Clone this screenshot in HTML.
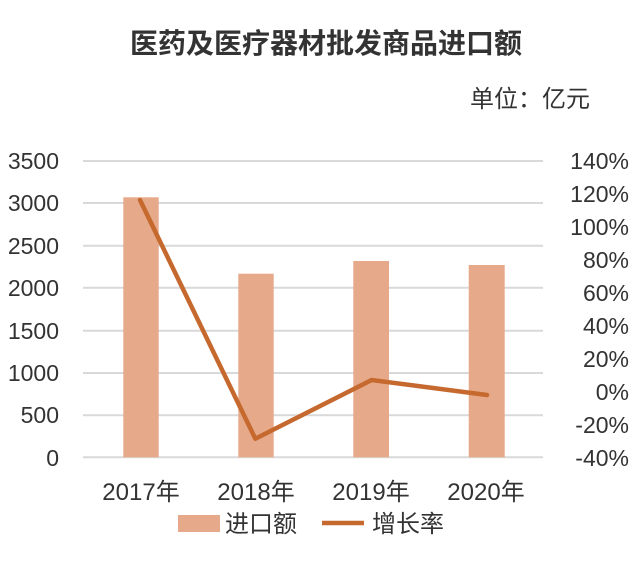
<!DOCTYPE html>
<html><head><meta charset="utf-8"><style>
body{margin:0;background:#fff;}
svg text{font-family:"Liberation Sans","Noto Sans CJK SC",sans-serif;fill:#333;}
</style></head><body>
<svg width="640" height="558" viewBox="0 0 640 558" xmlns="http://www.w3.org/2000/svg">
<text x="326" y="53" text-anchor="middle" font-size="28" font-weight="bold" fill="#3a3a3a">医药及医疗器材批发商品进口额</text>
<text x="590" y="107" text-anchor="end" font-size="24" fill="#111">单位：亿元</text>
<g stroke="#d9d9d9" stroke-width="2">
<line x1="83" x2="543" y1="161" y2="161"/><line x1="83" x2="543" y1="203" y2="203"/>
<line x1="83" x2="543" y1="245.7" y2="245.7"/><line x1="83" x2="543" y1="287.7" y2="287.7"/>
<line x1="83" x2="543" y1="330.7" y2="330.7"/><line x1="83" x2="543" y1="373" y2="373"/>
<line x1="83" x2="543" y1="415.3" y2="415.3"/><line x1="83" x2="543" y1="457.3" y2="457.3"/>
</g>
<g fill="#e6a98a">
<rect x="123.3" y="197.3" width="35.4" height="260"/>
<rect x="238.3" y="273.7" width="35.4" height="183.6"/>
<rect x="353.3" y="261" width="35.7" height="196.3"/>
<rect x="468.7" y="265" width="36" height="192.3"/>
</g>
<polyline points="140,200 255.3,438.7 371.7,380 487,395" fill="none" stroke="#c5692f" stroke-width="4.5" stroke-linejoin="round" stroke-linecap="round"/>
<g font-size="23" text-anchor="end">
<text x="59" y="169">3500</text><text x="59" y="211">3000</text><text x="59" y="254">2500</text>
<text x="59" y="296">2000</text><text x="59" y="339">1500</text><text x="59" y="381">1000</text>
<text x="59" y="423">500</text><text x="59" y="466">0</text>
</g>
<g font-size="23" text-anchor="end">
<text x="629" y="169">140%</text><text x="629" y="202">120%</text><text x="629" y="235">100%</text>
<text x="629" y="268">80%</text><text x="629" y="301">60%</text><text x="629" y="334">40%</text>
<text x="629" y="367">20%</text><text x="629" y="400">0%</text><text x="629" y="433">-20%</text>
<text x="629" y="466">-40%</text>
</g>
<g font-size="24" text-anchor="middle">
<text x="141" y="500">2017年</text><text x="256" y="500">2018年</text>
<text x="371" y="500">2019年</text><text x="486" y="500">2020年</text>
</g>
<rect x="178" y="515" width="42" height="17" fill="#e6a98a"/>
<text x="225" y="532" font-size="24">进口额</text>
<line x1="322" x2="364" y1="523" y2="523" stroke="#c5692f" stroke-width="4.5"/>
<text x="372" y="532" font-size="24">增长率</text>
</svg>
</body></html>
